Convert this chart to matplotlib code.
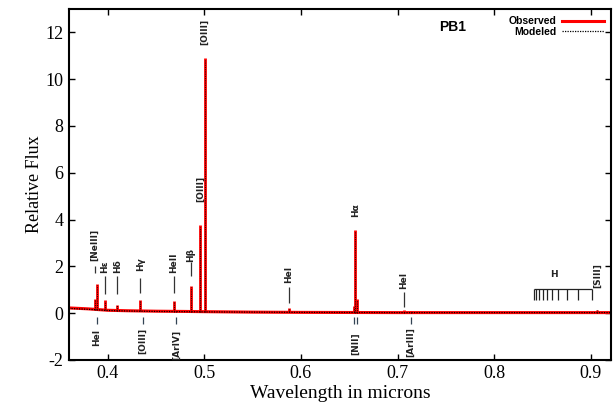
import numpy as np
import matplotlib
matplotlib.use("Agg")
import matplotlib.pyplot as plt

plt.rcParams["axes.unicode_minus"] = False

# continuum (wavelength in microns, relative flux)
cont_wl = [0.360, 0.370, 0.380, 0.390, 0.400, 0.420, 0.450, 0.480, 0.500, 0.550, 0.600, 0.700, 0.800, 0.921]
cont_obs = [0.22, 0.20, 0.18, 0.15, 0.12, 0.10, 0.08, 0.07, 0.06, 0.04, 0.03, 0.02, 0.02, 0.02]
cont_mod = [0.20, 0.18, 0.16, 0.14, 0.11, 0.09, 0.07, 0.06, 0.05, 0.04, 0.03, 0.02, 0.02, 0.02]

# emission lines
line_wl = [0.3869, 0.3889, 0.3970, 0.4102, 0.4340, 0.4363, 0.4686, 0.4711, 0.4861,
           0.4959, 0.5007, 0.5876, 0.6548, 0.6563, 0.6583, 0.7065, 0.7136, 0.9069]
obs_peak = [0.60, 1.25, 0.55, 0.35, 0.55, 0.10, 0.50, 0.10, 1.15,
            3.75, 10.9, 0.20, 0.30, 3.55, 0.60, 0.12, 0.10, 0.15]
mod_peak = [0.55, 1.20, 0.50, 0.33, 0.52, 0.09, 0.48, 0.09, 1.10,
            3.70, 10.8, 0.18, 0.28, 3.50, 0.58, 0.10, 0.09, 0.14]

# Paschen series marks
pa_wl = [0.8413, 0.8438, 0.8467, 0.8502, 0.8545, 0.8598, 0.8665, 0.8750, 0.8863, 0.9015]

# line identifications above / below the spectrum
up_names = ["[NeIII]", "Hε", "Hδ", "Hγ", "HeII", "Hβ", "[OIII]", "[OIII]", "HeI", "Hα", "HeI", "[SIII]"]
up_wl = [0.3869, 0.3970, 0.4102, 0.4340, 0.4686, 0.4861, 0.4959, 0.5007, 0.5876, 0.6563, 0.7065, 0.9069]
up_y = [2.9, 2.0, 2.0, 2.1, 2.15, 2.5, 5.3, 12.0, 1.65, 4.4, 1.4, 1.6]
up_dash = [(1.7, 2.0), (0.8, 1.6), (0.8, 1.6), (0.85, 1.5), (0.85, 1.6), (1.6, 2.2),
           None, None, (0.45, 1.1), None, (0.25, 0.9), None]

low_names = ["HeI", "[OIII]", "[ArIV]", "[NII]", "[ArIII]"]
low_wl = [0.3889, 0.4363, 0.4711, 0.6563, 0.7136]
low_y = [-1.05, -1.2, -1.35, -1.3, -1.25]
low_dash_wl = [0.3889, 0.4363, 0.4711, 0.6548, 0.6583, 0.7136]

fig = plt.figure(figsize=(6.16, 4.08), dpi=100)
ax = fig.add_subplot(1, 1, 1)
fig.subplots_adjust(left=0.112, right=0.992, top=0.978, bottom=0.118)

# observed
ax.plot(cont_wl, cont_obs, color="red", lw=2.2, zorder=2, label="Observed")
ax.vlines(line_wl, np.interp(line_wl, cont_wl, cont_obs), obs_peak, color="red", lw=2.0, zorder=2)
# modeled
ax.plot(cont_wl, cont_mod, color="black", lw=0.9, ls=(0, (1, 1)), zorder=3, label="Modeled")
ax.vlines(line_wl, np.interp(line_wl, cont_wl, cont_mod), mod_peak, color="#330000", lw=0.8,
          linestyles=[(0, (1, 1))], zorder=3)

lab = dict(rotation=90, ha="center", va="center", fontsize=6.5, fontweight="bold",
           family="DejaVu Sans", color="#222222")
for name, w, y in zip(up_names, up_wl, up_y):
    ax.text(w, y, name, **lab)
for w, d in zip(up_wl, up_dash):
    if d is not None:
        ax.vlines(w, d[0], d[1], color="#333333", lw=0.9)
for name, w, y in zip(low_names, low_wl, low_y):
    ax.text(w, y, name, **lab)
ax.vlines(low_dash_wl, -0.45, -0.15, color="#334455", lw=0.9)

# Paschen comb
ax.hlines(1.02, pa_wl[0], pa_wl[-1], color="#222222", lw=0.9)
ax.vlines(pa_wl, 0.55, 1.02, color="#222222", lw=0.9)
ax.text(0.862, 1.65, "H", ha="center", va="center", fontsize=6.5, fontweight="bold", color="#222222")

ax.text(0.757, 12.25, "PB1", ha="center", va="center", fontsize=10, fontweight="bold",
        family="Liberation Sans")

ax.legend(loc="upper right", frameon=False, markerfirst=False, handlelength=4.0,
          borderaxespad=0.3, labelspacing=0.05, handletextpad=0.5,
          prop={"family": "Liberation Sans", "weight": "bold", "size": 7.5})

ax.set_xlim(0.36, 0.921)
ax.set_ylim(-2, 13)
ax.set_xticks([0.4, 0.5, 0.6, 0.7, 0.8, 0.9])
ax.set_yticks(range(-2, 13, 2))
ax.set_xticklabels(["0.4", "0.5", "0.6", "0.7", "0.8", "0.9"])
ax.tick_params(direction="in", top=True, right=True, length=4, width=1, labelsize=13, pad=4)
for t in ax.get_xticklabels() + ax.get_yticklabels():
    t.set_family("Liberation Serif")
for s in ax.spines.values():
    s.set_linewidth(1.5)
ax.set_xlabel("Wavelength in microns", family="Liberation Serif", fontsize=14, labelpad=2)
ax.set_ylabel("Relative Flux", family="Liberation Serif", fontsize=13, labelpad=2)

fig.savefig("out.png", dpi=100)
